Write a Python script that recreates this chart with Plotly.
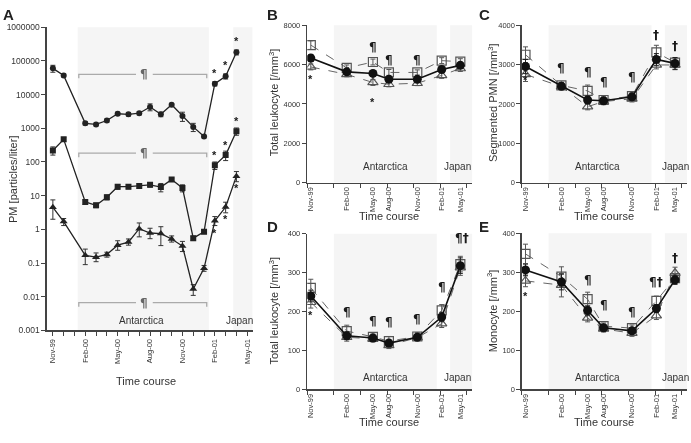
import math
import plotly.graph_objects as go

W, H = 691, 443
FONT = "Liberation Sans, Arial, sans-serif"
SYMFONT = "DejaVu Sans, Liberation Sans, sans-serif"
TXT = "#333333"
AX = "#444444"
SHADE = "#f5f5f5"
SYMCOL = "#1a1a1a"

# ---------------- Panel A data (monthly, Nov-99 = 0) ----------------
a_x = [0, 1, 3, 4, 5, 6, 7, 8, 9, 10, 11, 12, 13, 14, 15, 16, 17]
a_top = [60000, 37000, 1400, 1300, 1700, 2700, 2600, 2800, 4300, 2600, 5000, 2300, 1100, 570, 21000, 35000, 180000]
a_top_err = [14000, 3500, 150, 120, 180, 300, 300, 300, 1000, 400, 500, 700, 300, 50, 3000, 6000, 30000]
a_mid = [220, 470, 6.5, 5.2, 9, 18.5, 18.5, 19.5, 21, 18, 30, 17, 0.55, 0.85, 80, 160, 820]
a_mid_err = [60, 60, 1.0, 0.8, 1.5, 3, 2.5, 3, 3, 5, 3, 4, 0.08, 0.1, 20, 50, 200]
a_low = [4.5, 1.7, 0.17, 0.15, 0.18, 0.34, 0.42, 1.05, 0.78, 0.75, 0.52, 0.32, 0.017, 0.07, 1.8, 4.6, 38]
a_low_err = [3.0, 0.4, 0.09, 0.05, 0.03, 0.12, 0.1, 0.5, 0.3, 0.45, 0.12, 0.12, 0.006, 0.015, 0.6, 1.8, 14]
a_low_errm = [2.5, 0.4, 0.08, 0.04, 0.03, 0.1, 0.08, 0.45, 0.25, 0.42, 0.1, 0.1, 0.006, 0.013, 0.5, 1.5, 12]
a_ticks = [0, 3, 6, 9, 12, 15, 18]
a_ticklabels = ["Nov-99", "Feb-00", "May-00", "Aug-00", "Nov-00", "Feb-01", "May-01"]
a_yticks = [0.001, 0.01, 0.1, 1, 10, 100, 1000, 10000, 100000, 1000000]
a_yticklabels = ["0.001", "0.01", "0.1", "1", "10", "100", "1000", "10000", "100000", "1000000"]
a_star_idx = [14, 15, 16]
a_brackets = [40000, 182, 0.0067]

# ---------------- Panels B-E data ----------------
t_x = [0.4, 4.45, 7.4, 9.2, 12.4, 15.15, 17.25]
t_labels = ["Nov-99", "Feb-00", "May-00", "Aug-00", "Nov-00", "Feb-01", "May-01"]

b_all = [6330, 5630, 5550, 5250, 5250, 5750, 5960]
b_sq = [6990, 5830, 6130, 5600, 5600, 6200, 6150]
b_tri = [5880, 5500, 5090, 5000, 5050, 5450, 5800]
b_all_e = [180, 120, 150, 120, 120, 150, 150]
b_sq_e = [220, 150, 150, 150, 130, 150, 150]
b_tri_e = [150, 120, 150, 130, 120, 150, 150]

c_all = [2950, 2450, 2100, 2080, 2180, 3130, 3030]
c_sq = [3250, 2470, 2330, 2100, 2200, 3310, 3050]
c_tri = [2750, 2440, 1930, 2060, 2130, 2990, 2990]
c_all_e = [180, 80, 100, 80, 80, 150, 150]
c_sq_e = [200, 80, 150, 80, 100, 180, 120]
c_tri_e = [180, 80, 80, 80, 80, 100, 120]

d_all = [240, 138, 132, 119, 134, 186, 318]
d_sq = [261, 150, 135, 124, 136, 203, 322]
d_tri = [224, 134, 130, 113, 133, 169, 313]
d_all_e = [15, 10, 8, 8, 8, 12, 20]
d_sq_e = [22, 15, 10, 12, 10, 15, 20]
d_tri_e = [15, 10, 8, 8, 8, 10, 20]

e_all = [306, 275, 202, 158, 150, 207, 281]
e_sq = [347, 289, 231, 162, 157, 227, 285]
e_tri = [278, 267, 183, 155, 144, 189, 298]
e_all_e = [15, 20, 12, 8, 8, 10, 12]
e_sq_e = [25, 25, 18, 8, 8, 12, 12]
e_tri_e = [15, 30, 10, 8, 8, 10, 15]

# annotation symbols (text, x, y) for B-E
b_marks = [("¶", 7.4, 6880), ("¶", 9.2, 6210), ("¶", 12.4, 6240), ("*", 0.4, 5250), ("*", 7.4, 4100)]
c_marks = [("*", 0.4, 2620), ("¶", 4.45, 2920), ("¶", 7.4, 2820), ("¶", 9.2, 2550), ("¶", 12.4, 2690),
           ("†", 15.15, 3740), ("†", 17.25, 3480)]
d_marks = [("*", 0.4, 190), ("¶", 4.45, 199), ("¶", 7.4, 177), ("¶", 9.2, 172), ("¶", 12.4, 180),
           ("¶", 15.15, 262), ("¶†", 17.4, 390)]
e_marks = [("*", 0.4, 240), ("¶", 7.4, 280), ("¶", 9.2, 217), ("¶", 12.4, 199), ("¶†", 15.15, 276),
           ("†", 17.25, 337)]


def px_x(p):
    return p / W


def px_y(p):
    return 1 - p / H


fig = go.Figure()

# ---------------- Panel A traces ----------------
def a_trace(y, ep, em, symbol, size):
    return go.Scatter(
        x=a_x, y=y, mode="lines+markers", xaxis="x", yaxis="y",
        line=dict(color="#222222", width=1.3),
        marker=dict(symbol=symbol, size=size, color="#222222"),
        error_y=dict(type="data", array=ep, arrayminus=em, color="#333333", thickness=1, width=2.5),
        showlegend=False, hoverinfo="skip")


fig.add_trace(a_trace(a_top, a_top_err, a_top_err, "circle", 6))
fig.add_trace(a_trace(a_mid, a_mid_err, a_mid_err, "square", 6))
fig.add_trace(a_trace(a_low, a_low_err, a_low_errm, "triangle-up", 7))

# brackets with ¶ (panel A)
bx0, bx1, gap0, gap1 = 2.4, 14.25, 7.7, 9.25
for yb in a_brackets:
    drop = yb * 10 ** (-0.12)
    fig.add_trace(go.Scatter(x=[bx0, bx0, gap0, None, gap1, bx1, bx1],
                             y=[drop, yb, yb, None, yb, yb, drop],
                             mode="lines", line=dict(color="#aaaaaa", width=1.3),
                             xaxis="x", yaxis="y", showlegend=False, hoverinfo="skip"))


def sym(text):
    return f"<b>{text}</b>"


annotations = []
for yb in a_brackets:
    annotations.append(dict(x=(gap0 + gap1) / 2, y=math.log10(yb), xref="x", yref="y", text=sym("¶"),
                            showarrow=False,
                            font=dict(size=12, color="#666666", family=SYMFONT)))
for i in a_star_idx:
    for yy, shift in [(a_top[i], 11), (a_mid[i], 10), (a_low[i], -12)]:
        annotations.append(dict(x=a_x[i], y=math.log10(yy), xref="x", yref="y", text=sym("*"),
                                showarrow=False, yshift=shift,
                                font=dict(size=11, color=SYMCOL, family=FONT)))

# ---------------- Panels B-E traces ----------------
panels = [
    ("x2", "y2", b_all, b_sq, b_tri, b_all_e, b_sq_e, b_tri_e, b_marks),
    ("x3", "y3", c_all, c_sq, c_tri, c_all_e, c_sq_e, c_tri_e, c_marks),
    ("x4", "y4", d_all, d_sq, d_tri, d_all_e, d_sq_e, d_tri_e, d_marks),
    ("x5", "y5", e_all, e_sq, e_tri, e_all_e, e_sq_e, e_tri_e, e_marks),
]
for xa, ya, yall, ysq, ytri, eall, esq, etri, marks in panels:
    for yy, ee, msym in [(ysq, esq, "square-open"), (ytri, etri, "triangle-up-open")]:
        fig.add_trace(go.Scatter(
            x=t_x, y=yy, mode="lines+markers", xaxis=xa, yaxis=ya,
            line=dict(color="#666666", width=1, dash="dash"),
            marker=dict(symbol=msym, size=9, color="#555555", line=dict(width=1.2)),
            error_y=dict(type="data", array=ee, color="#555555", thickness=1, width=2.5),
            showlegend=False, hoverinfo="skip"))
    fig.add_trace(go.Scatter(
        x=t_x, y=yall, mode="lines+markers", xaxis=xa, yaxis=ya,
        line=dict(color="#111111", width=1.6),
        marker=dict(symbol="circle", size=9, color="#111111"),
        error_y=dict(type="data", array=eall, color="#222222", thickness=1, width=2.5),
        showlegend=False, hoverinfo="skip"))
    for txt, xx, yy in marks:
        annotations.append(dict(x=xx, y=yy, xref=xa, yref=ya, text=sym(txt), showarrow=False,
                                font=dict(size=12 if txt != "*" else 11, color=SYMCOL,
                                          family=SYMFONT if txt != "*" else FONT)))

# ---------------- shading ----------------
shapes = []
for x0, x1 in [(2.3, 14.45), (16.7, 18.5)]:
    shapes.append(dict(type="rect", xref="x", yref="y domain", x0=x0, x1=x1, y0=0, y1=1,
                       fillcolor=SHADE, line=dict(width=0), layer="below"))
for xa, ya in [("x2", "y2"), ("x3", "y3"), ("x4", "y4"), ("x5", "y5")]:
    for x0, x1 in [(3.0, 14.6), (16.1, 18.6)]:
        shapes.append(dict(type="rect", xref=xa, yref=ya + " domain", x0=x0, x1=x1, y0=0, y1=1,
                           fillcolor=SHADE, line=dict(width=0), layer="below"))

# ---------------- axes ----------------
common = dict(showgrid=False, zeroline=False, showline=True, linecolor=AX, linewidth=1.5,
              tickcolor=AX, ticklen=4, tickwidth=1)

layout_axes = {}
layout_axes["xaxis"] = dict(common, domain=[px_x(46), px_x(252)], range=[-0.55, 18.5],
                            tickmode="array", tickvals=a_ticks, ticktext=a_ticklabels,
                            ticks="outside", tickangle=-90, anchor="y",
                            tickfont=dict(size=7.5, color=TXT, family=FONT),
                            minor=dict(ticks="outside", dtick=1, tick0=0, ticklen=4, tickcolor=AX))
layout_axes["yaxis"] = dict(common, domain=[px_y(333), px_y(22.7)], type="log", range=[-3, 6],
                            tickmode="array", tickvals=a_yticks, ticktext=a_yticklabels,
                            ticks="outside", anchor="x",
                            tickfont=dict(size=8.5, color=TXT, family=FONT))

px_boxes = {
    2: (306.7, 472, 181.7, 20.7, [0, 8000], [0, 2000, 4000, 6000, 8000]),
    3: (521.7, 687, 181.7, 20.7, [0, 4000], [0, 1000, 2000, 3000, 4000]),
    4: (306.7, 472, 393.3, 234, [0, 400], [0, 100, 200, 300, 400]),
    5: (521.7, 687, 393.3, 233.5, [0, 400], [0, 100, 200, 300, 400]),
}
for k, (xl, xr, yb, yt, yr, ytv) in px_boxes.items():
    layout_axes[f"xaxis{k}"] = dict(common, domain=[px_x(xl), px_x(xr)], range=[0, 18.6],
                                    tickmode="array", tickvals=t_x, ticktext=t_labels, ticks="",
                                    tickangle=-90, anchor=f"y{k}",
                                    tickfont=dict(size=7.5, color=TXT, family=FONT),
                                    minor=dict(ticks="outside", tick0=0, dtick=3, ticklen=4, tickcolor=AX))
    layout_axes[f"yaxis{k}"] = dict(common, domain=[px_y(yb), px_y(yt)], range=yr,
                                    tickmode="array", tickvals=ytv, ticks="outside", anchor=f"x{k}",
                                    tickfont=dict(size=7.5, color=TXT, family=FONT))

# ---------------- text labels ----------------
def paper_text(text, x, y, size, angle=0, bold=False):
    return dict(text=f"<b>{text}</b>" if bold else text, x=px_x(x), y=px_y(y), xref="paper", yref="paper",
                showarrow=False, textangle=angle, xanchor="center", yanchor="middle",
                font=dict(size=size, color="#222222" if bold else TXT, family=FONT))


labels = [
    ("A", 8, 10, 15, 0, True), ("B", 272, 10, 15, 0, True), ("C", 484, 10, 15, 0, True),
    ("D", 272, 227, 15, 0, True), ("E", 484, 227, 15, 0, True),
    ("PM [particles/liter]", 12, 178, 11, -90, False),
    ("Total leukocyte [/mm<sup>3</sup>]", 273, 100, 11, -90, False),
    ("Segmented PMN [/mm<sup>3</sup>]", 492, 100, 11, -90, False),
    ("Total leukocyte [/mm<sup>3</sup>]", 273, 313, 11, -90, False),
    ("Monocyte [/mm<sup>3</sup>]", 492, 313, 11, -90, False),
    ("Time course", 145, 385, 11, 0, False),
    ("Time course", 389, 216, 11, 0, False),
    ("Time course", 604, 216, 11, 0, False),
    ("Time course", 389, 427, 11, 0, False),
    ("Time course", 604, 427, 11, 0, False),
    ("Antarctica", 141, 323, 10, 0, False), ("Japan", 239, 323, 10, 0, False),
    ("Antarctica", 385, 165, 10, 0, False), ("Japan", 457, 165, 10, 0, False),
    ("Antarctica", 597, 165, 10, 0, False), ("Japan", 675, 165, 10, 0, False),
    ("Antarctica", 385, 381, 10, 0, False), ("Japan", 457, 381, 10, 0, False),
    ("Antarctica", 597, 381, 10, 0, False), ("Japan", 675, 381, 10, 0, False),
]
for t, x, y, s, ang, b in labels:
    annotations.append(paper_text(t, x, y, s, ang, b))

fig.update_layout(width=W, height=H, autosize=False, margin=dict(l=0, r=0, t=0, b=0),
                  paper_bgcolor="white", plot_bgcolor="white", font=dict(family=FONT, color=TXT),
                  showlegend=False, shapes=shapes, annotations=annotations, **layout_axes)

post = ("document.body.style.margin='0';document.body.style.padding='0';"
        "document.querySelectorAll('svg.main-svg').forEach(function(s){s.style.willChange='transform';});")
fig.write_html("out.html", config={"displayModeBar": False, "staticPlot": True}, post_script=post)
